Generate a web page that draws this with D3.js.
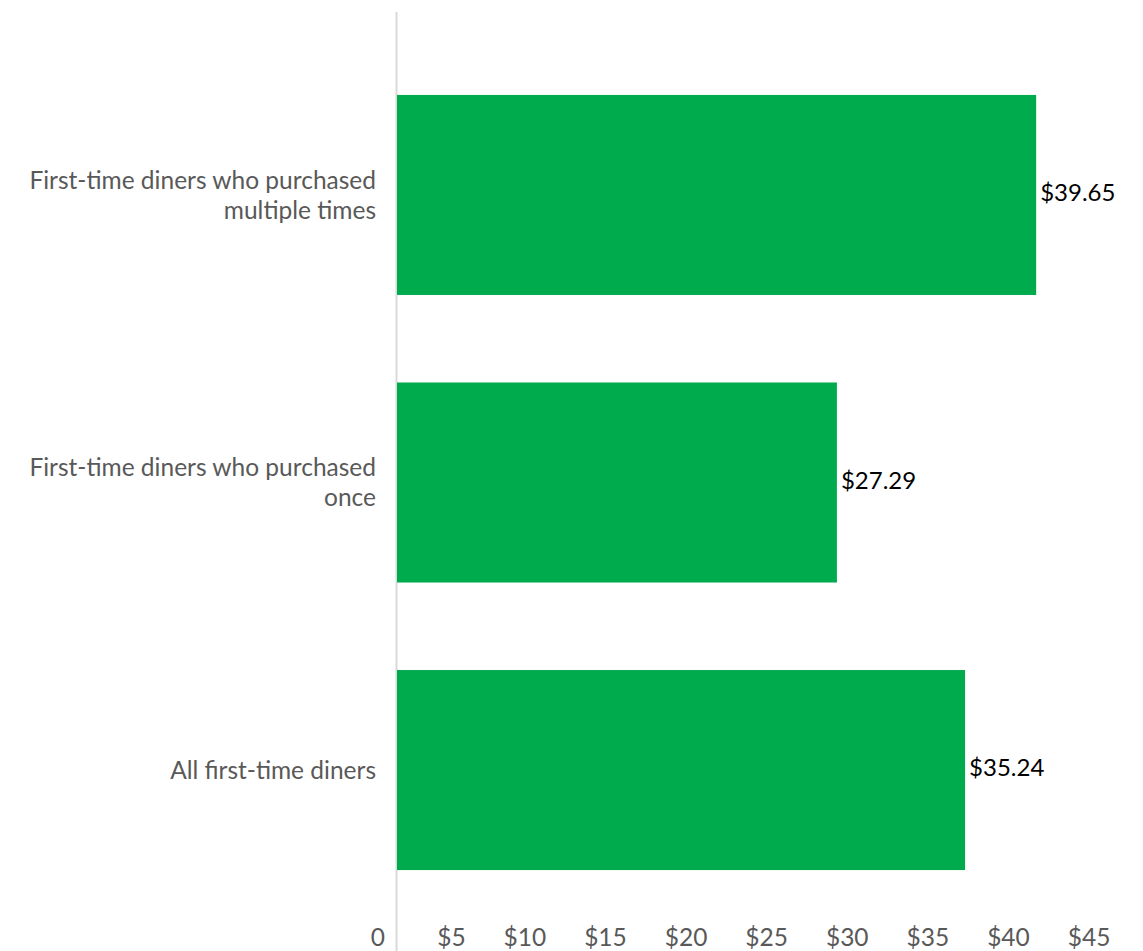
<!DOCTYPE html>
<html>
<head>
<meta charset="utf-8">
<script src="https://cdn.jsdelivr.net/npm/d3@7"></script>
<style>
  html, body { margin: 0; padding: 0; background: #fff; }
  svg { display: block; font-family: Lato, "Open Sans", sans-serif; }
</style>
</head>
<body>
<svg id="chart" width="1143" height="951"></svg>
<script>
const categories = [
  ["First-time diners who purchased", "multiple times"],
  ["First-time diners who purchased", "once"],
  ["All first-time diners"]
];
const values = [39.65, 27.29, 35.24];
const valueLabels = ["$39.65", "$27.29", "$35.24"];
const tickValues = [0, 5, 10, 15, 20, 25, 30, 35, 40, 45];
const tickLabels = ["0", "$5", "$10", "$15", "$20", "$25", "$30", "$35", "$40", "$45"];

const svg = d3.select("#chart");
const x = d3.scaleLinear().domain([0, 45]).range([397, 397 + 45 * 16.12]);
const y = d3.scaleBand()
  .domain(d3.range(categories.length))
  .range([51.25, 913.75])
  .paddingInner(87.5 / 287.5)
  .paddingOuter(0.152);

// axis line
svg.append("line")
  .attr("x1", 396.5).attr("x2", 396.5)
  .attr("y1", 12).attr("y2", 951)
  .attr("stroke", "#d9d9d9").attr("stroke-width", 2);

// bars
svg.selectAll("rect.bar").data(values).join("rect")
  .attr("class", "bar")
  .attr("x", x(0))
  .attr("y", (d, i) => y(i))
  .attr("width", d => x(d) - x(0))
  .attr("height", y.bandwidth())
  .attr("fill", "#00AB4E");

// value labels
svg.selectAll("text.val").data(values).join("text")
  .attr("class", "val")
  .attr("x", d => x(d) + 4)
  .attr("y", (d, i) => y(i) + y.bandwidth() / 2 - 2)
  .attr("dy", "0.35em")
  .attr("font-size", 24)
  .attr("fill", "#000")
  .text((d, i) => valueLabels[i]);

// category labels
const cat = svg.selectAll("text.cat").data(categories).join("text")
  .attr("class", "cat")
  .attr("text-anchor", "end")
  .attr("font-size", 24.5)
  .attr("fill", "#595959");
cat.each(function(lines, i) {
  const cy = y(i) + y.bandwidth() / 2;
  const lh = 30;
  const start = cy - (lines.length - 1) * lh / 2;
  d3.select(this).selectAll("tspan").data(lines).join("tspan")
    .attr("x", 376)
    .attr("y", (d, j) => start + j * lh)
    .attr("dy", "0.35em")
    .text(d => d);
});

// tick labels
svg.selectAll("text.tick").data(tickValues).join("text")
  .attr("class", "tick")
  .attr("x", d => x(d) - 12)
  .attr("y", 946)
  .attr("text-anchor", "end")
  .attr("font-size", 24.5)
  .attr("fill", "#595959")
  .text((d, i) => tickLabels[i]);
</script>
</body>
</html>
